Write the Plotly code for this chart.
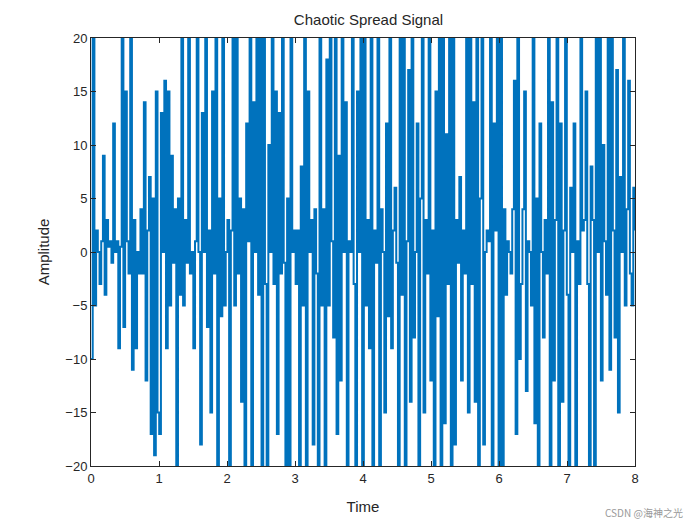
import numpy as np
import plotly.graph_objects as go

amp_0_1 = [-10, 20, -5, 2, 0, -3, 1, 9, -4, 3, 0.5, 1, -1, 12, 0, 1, -9, 0.5, 20, -7, 15, 1, -2, 20, -11, 3, -9, 0, -2, 4, -2, 14, -12, 2, 7, -17, 5, -19, 15, -15]
amp_1_2 = [-17, 13, 0, 16, -9, 15, -5, 9, -1, 4, -20, 5, -4, 20, -5, 3, -1, 20, -2, 0, -9, 1, 20, 0, -18, 13, 0, 20, -7, 2, -15, 15, -2, 20, -20, 5, -6, 20, -5, 0]
amp_2_3 = [3, -20, 2, 20, -5, 20, -2, 5, -14, 4, -20, 12, 1, 20, -20, 14, 0, 20, -4, 20, -20, 20, -3, -20, 10, 0, 20, -3, 15, -17, 13, -2, 20, -1, -20, 5, -20, 20, 0, 2]
amp_3_4 = [-3, 2, -20, 8, -5, 20, -20, 15, 0, 3, -18, 4, -2, -20, 20, -5, 4, -20, 18, -5, 20, 1, -8, 20, -17, 9, -12, 20, 0, 14, -20, 1, 0, 20, -3, -20, 15, 0, 20, -20]
amp_4_5 = [20, -5, 3, -9, 20, -20, 2, -1, 20, -20, 4, 0, -15, 12, -6, 20, -9, 2, 6, -1, -20, 20, -4, 20, -20, 1, 17, -14, 20, -8, 0, 12, -20, 5, 20, -15, 3, -2, 20, -12]
amp_5_6 = [2, -20, 15, -6, 20, -20, 20, -16, 11, -3, 20, -20, 20, -18, 3, -1, 7, -12, 2, -2, 20, -15, 20, -3, 14, -14, 20, -20, 5, 20, -18, 0, 2, 1, 20, -20, 12, 2, 20, -20]
amp_6_7 = [20, -20, 4, -4, 1, 0, -2, 4, 16, -17, 20, -10, -3, 4, 15, -13, 1, 0, -5, 20, -16, 5, -20, 12, 0, -8, 3, -2, 20, -20, 14, -12, 3, 20, -20, 12, -14, 2, 20, -4]
amp_7_8 = [-20, 6, 0, 12, -20, 1, -3, 20, 2, 3, 15, -3, -20, 8, 3, -20, 20, 0, 20, -12, 10, 1, -4, 20, -11, 20, 2, -8, 17, -15, 7, 0, 20, -5, 4, 16, -2, -5, 6, 2]

amplitude = amp_0_1 + amp_1_2 + amp_2_3 + amp_3_4 + amp_4_5 + amp_5_6 + amp_6_7 + amp_7_8
time = np.linspace(0, 8, len(amplitude))

fig = go.Figure(go.Scatter(x=time, y=amplitude, mode="lines",
                           line=dict(color="#0072BD", width=2), line_shape="hv"))
ax = dict(showline=True, mirror="ticks", linecolor="#262626", linewidth=1,
          ticks="inside", ticklen=5, tickcolor="#262626", showgrid=False, zeroline=False,
          automargin=False, tickfont=dict(size=13, color="#262626"))
fig.update_layout(
    width=700, height=525, plot_bgcolor="white", paper_bgcolor="white",
    font=dict(family="Liberation Sans, Arial", color="#262626"),
    margin=dict(l=83, r=73, t=30, b=67, autoexpand=False),
    title=dict(text="Chaotic Spread Signal", x=0.515, xanchor="center", y=0.988, font=dict(size=15)),
    showlegend=False,
)
fig.update_xaxes(ax, range=[0, 8], dtick=1, title=dict(text="Time", font=dict(size=15), standoff=16))
fig.update_yaxes(ax, range=[-20, 20], dtick=5, title=dict(text="Amplitude", font=dict(size=15), standoff=12))
fig.add_annotation(text="CSDN @海神之光", x=1, y=0, xref="paper", yref="paper", xshift=50, yshift=-56,
                   xanchor="right", yanchor="bottom", showarrow=False,
                   font=dict(size=10, color="#999999", family="Noto Sans CJK SC"))
fig.write_html("out.html")
